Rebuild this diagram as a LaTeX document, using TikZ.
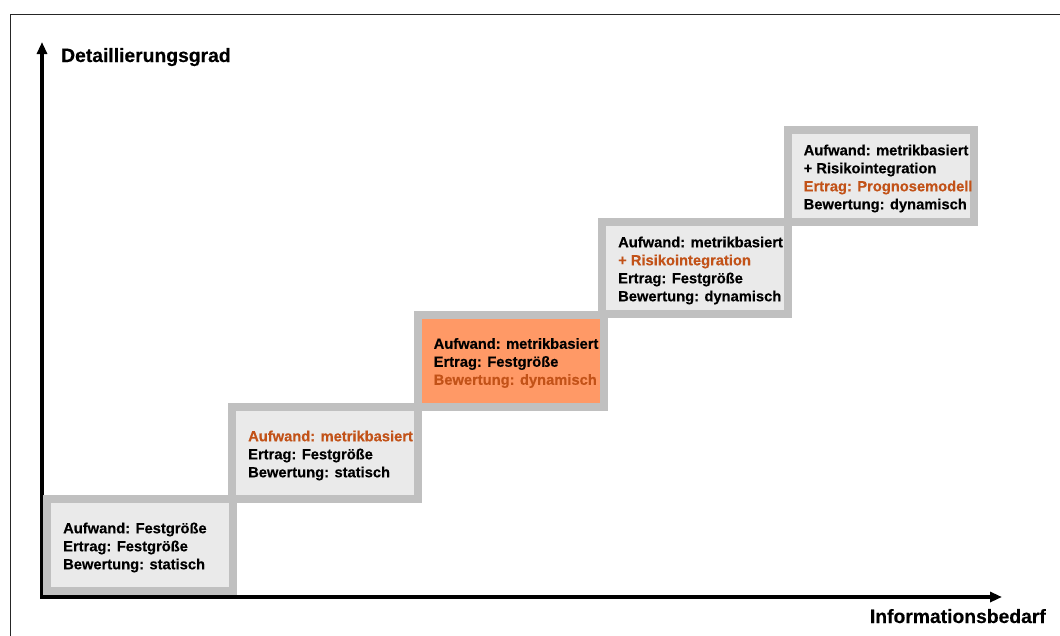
\documentclass[tikz,border=0pt]{standalone}
\usepackage{fontspec}
\setmainfont[BoldFeatures={FakeBold=0.3}]{Liberation Sans}
\usetikzlibrary{arrows.meta,positioning}

\definecolor{stepgray}{RGB}{192,192,192}
\definecolor{stepfill}{RGB}{234,234,234}
\definecolor{steporange}{RGB}{255,153,102}
\definecolor{hilite}{RGB}{194,82,24}

\tikzset{
  stepbox/.style={rectangle,draw=stepgray,line width=8pt,fill=stepfill,minimum width=186pt,minimum height=92pt,inner sep=0pt},
  steptext/.style={inner sep=0pt,align=left,yshift=-2.5pt,font=\fontsize{14.7pt}{18pt}\selectfont\bfseries},
  axis/.style={line width=3.5pt,{Triangle[length=12pt,width=10pt]}-{Triangle[length=12pt,width=10pt]}},
  axislabel/.style={inner sep=0pt,font=\fontsize{19.3pt}{23pt}\selectfont\bfseries}
}

\begin{document}
\begin{tikzpicture}[x=1pt,y=-1pt]
\useasboundingbox (0,0) rectangle (1060,635);
    % outer frame
\draw[line width=0.8pt,black!85] (10,660) -- (10,14) -- (1080,14);

    % axes
\coordinate (ytip) at (42,42);
\coordinate (o) at (42,597);
\coordinate (xtip) at (1002,597);
\draw[axis] (ytip) -- (o) -- (xtip);
\node[axislabel,anchor=base west] (ylabel) at (61,62) {Detaillierungsgrad};
\node[axislabel,anchor=base east] (xlabel) at (1046,623) {Informationsbedarf};

    % steps
\node[stepbox] (b1) at (140,545) {};
\node[steptext,right=20pt of b1.west] (t1) {Aufwand: Festgröße\\Ertrag: Festgröße\\Bewertung: statisch};

\node[stepbox] (b2) at (325,453) {};
\node[steptext,right=20pt of b2.west] (t2) {{\color{hilite}Aufwand: metrikbasiert}\\Ertrag: Festgröße\\Bewertung: statisch};

\node[stepbox,fill=steporange] (b3) at (510.5,360.5) {};
\node[steptext,right=20pt of b3.west] (t3) {Aufwand: metrikbasiert\\Ertrag: Festgröße\\{\color{hilite}Bewertung: dynamisch}};

\node[stepbox] (b4) at (695,268) {};
\node[steptext,right=20pt of b4.west] (t4) {Aufwand: metrikbasiert\\{\color{hilite}+ Risikointegration}\\Ertrag: Festgröße\\Bewertung: dynamisch};

\node[stepbox] (b5) at (880.5,176) {};
\node[steptext,right=20pt of b5.west] (t5) {Aufwand: metrikbasiert\\+ Risikointegration\\{\color{hilite}Ertrag: Prognosemodell}\\Bewertung: dynamisch};
\end{tikzpicture}
\end{document}
